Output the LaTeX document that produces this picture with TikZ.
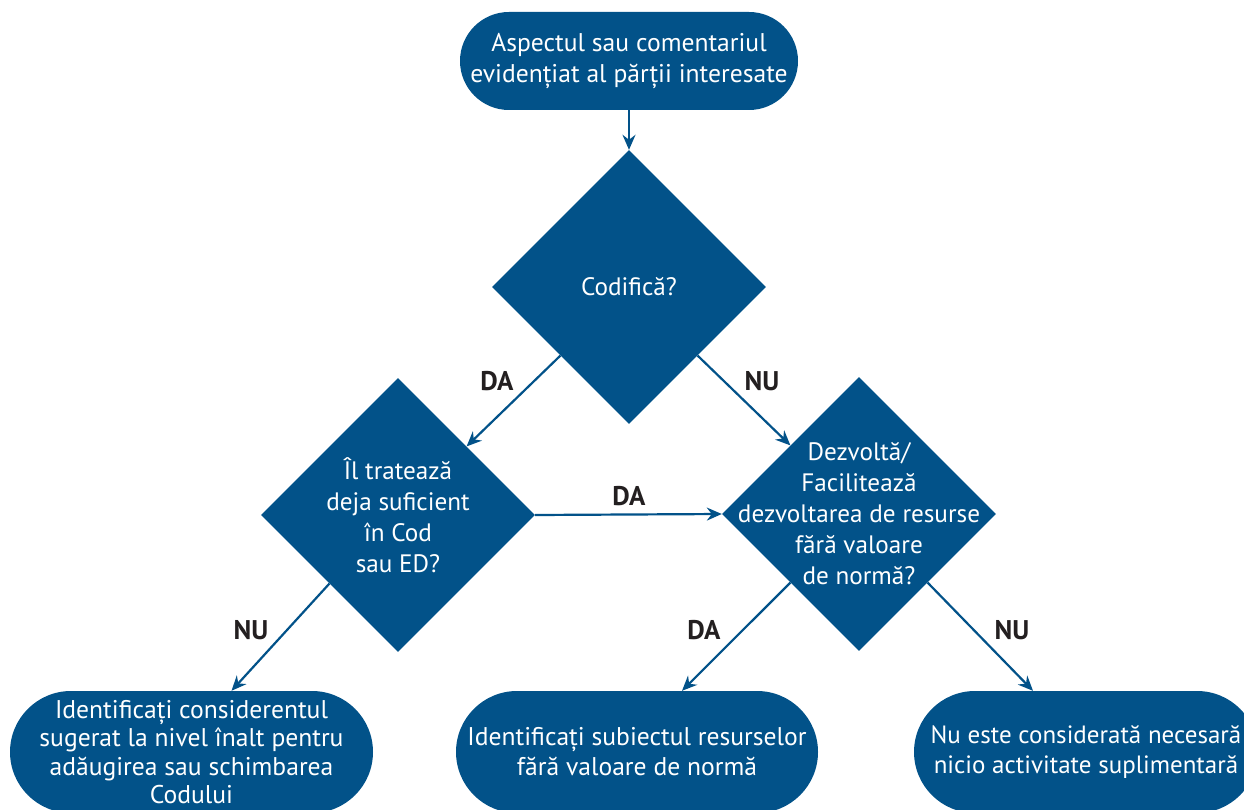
\documentclass[tikz,border=0pt]{standalone}
\usepackage{fontspec}
\setmainfont{PT Sans}
\usetikzlibrary{shapes.geometric,arrows.meta,calc}
\definecolor{fblue}{RGB}{2,82,137}
\definecolor{lbl}{RGB}{35,31,32}
\begin{document}
\begin{tikzpicture}[x=1pt,y=-1pt,
  term/.style={fill=fblue, text=white, rectangle, inner sep=0pt, align=center, font=\fontsize{25.6}{31.5}\selectfont},
  dec/.style={diamond, fill=fblue, minimum width=274pt, minimum height=274pt, inner sep=0pt},
  dtext/.style={text=white, align=center, inner sep=0pt, font=\fontsize{25.2}{31}\selectfont},
  arr/.style={draw=fblue, line width=2.2pt, -{Stealth[length=15pt,width=13pt,inset=5pt]}},
  lab/.style={text=lbl, font=\bfseries\fontsize{27}{30}\selectfont}]
\useasboundingbox (0,0) rectangle (1244,810);
\begin{scope}
\clip (0,0) rectangle (1244,810);
\node[term, minimum width=338pt, minimum height=98pt, rounded corners=49pt] (start) at (629,61) {Aspectul sau comentariul\\evidențiat al părții interesate};
\node[dec] (d1) at (629,287) {};
\node[dtext] (d1t) at (d1.center) {Codifică?};
\node[dec] (d2) at (398,515) {};
\node[dtext] (d2t) at (d2.center) {Îl tratează\\deja suficient\\în Cod\\sau ED?};
\node[dec] (d3) at (859,514) {};
\node[dtext] (d3t) at (d3.center) {Dezvoltă/\\Facilitează\\dezvoltarea de resurse\\fără valoare\\de normă?};
\node[term, minimum width=363pt, minimum height=122pt, rounded corners=61pt, font=\fontsize{25.6}{28.5}\selectfont] (b1) at (191.5,752) {Identificați considerentul\\sugerat la nivel înalt pentru\\adăugirea sau schimbarea\\Codului};
\node[term, minimum width=362pt, minimum height=122pt, rounded corners=61pt, font=\fontsize{25.6}{30}\selectfont] (b2) at (637,752) {Identificați subiectul resurselor\\fără valoare de normă};
\node[term, minimum width=344pt, minimum height=122pt, rounded corners=61pt, font=\fontsize{25}{30}\selectfont] (b3) at (1086,752) {Nu este considerată necesară\\nicio activitate suplimentară};
\end{scope}
\draw[arr] (start.south) -- (d1.north);
\draw[arr] ($(d1.west)!0.5!(d1.south)$) -- ($(d2.north)!0.5!(d2.east)$);
\draw[arr] ($(d1.east)!0.5!(d1.south)$) -- ($(d3.north)!0.5!(d3.west)$);
\draw[arr] (d2.east) -- (d3.west);
\draw[arr] ($(d2.west)!0.5!(d2.south)$) -- ([xshift=40pt]b1.north);
\draw[arr] ($(d3.west)!0.5!(d3.south)$) -- ([xshift=45pt]b2.north);
\draw[arr] ($(d3.east)!0.5!(d3.south)$) -- ([xshift=-53pt]b3.north);
\node[lab] (l1) at (497,381) {DA};
\node[lab] (l2) at (762,381) {NU};
\node[lab] (l3) at (629,496) {DA};
\node[lab] (l4) at (251,630) {NU};
\node[lab] (l5) at (704,630) {DA};
\node[lab] (l6) at (1012,630) {NU};
\end{tikzpicture}
\end{document}
